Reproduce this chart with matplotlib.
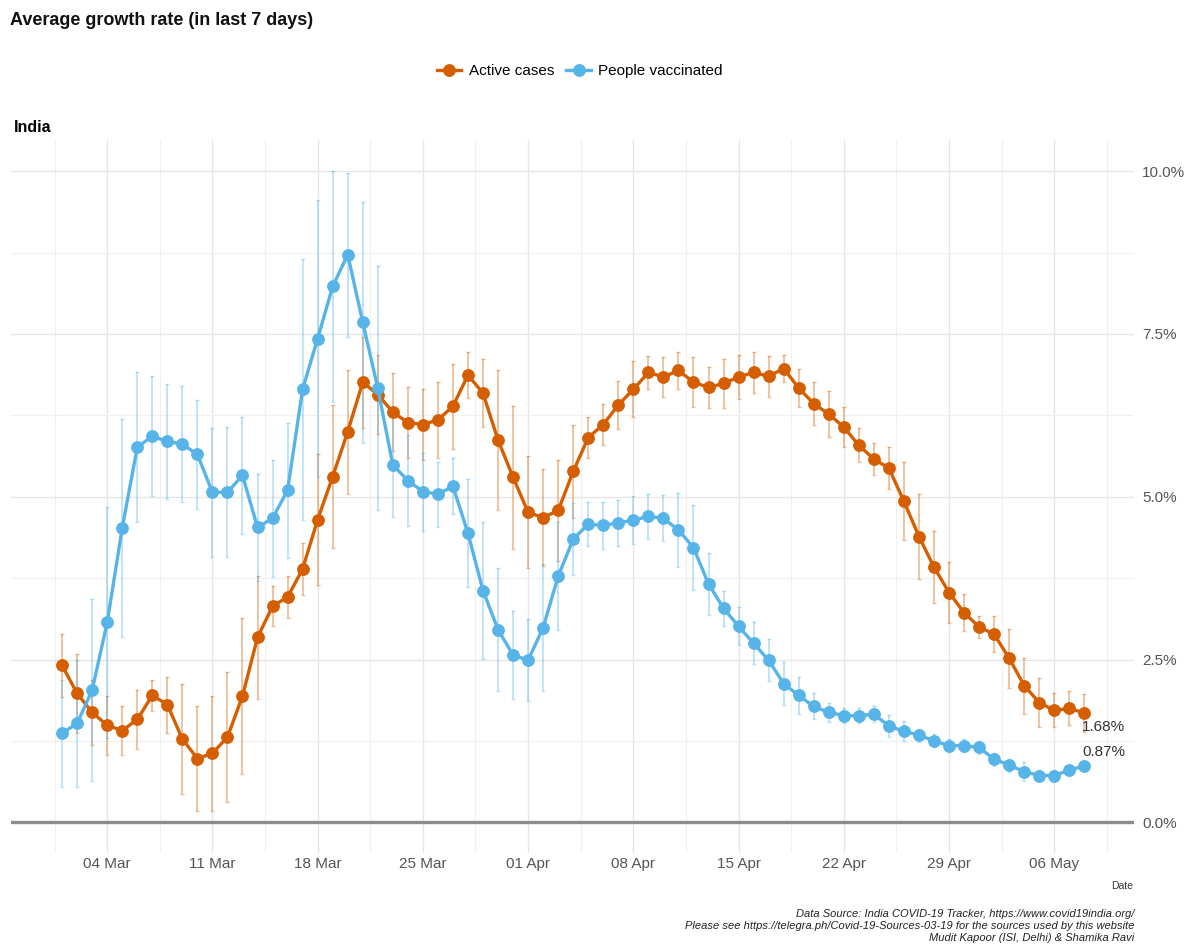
import numpy as np
import pandas as pd
import matplotlib
matplotlib.use('Agg')
import matplotlib.pyplot as plt
import matplotlib.dates as mdates
from matplotlib.ticker import MultipleLocator, FuncFormatter

plt.rcParams['font.family'] = ['Liberation Sans Narrow', 'Liberation Sans', 'DejaVu Sans']

# data (growth rate in %, and error half-widths)
dates = pd.date_range('2021-03-01', '2021-05-08', freq='D')

active = [2.41, 1.98, 1.69, 1.49, 1.41, 1.58, 1.95, 1.81, 1.28, 0.98,
          1.06, 1.31, 1.94, 2.84, 3.32, 3.46, 3.89, 4.65, 5.31, 6.00,
          6.76, 6.57, 6.30, 6.14, 6.11, 6.18, 6.39, 6.87, 6.59, 5.87,
          5.30, 4.76, 4.68, 4.79, 5.39, 5.91, 6.11, 6.41, 6.65, 6.91,
          6.84, 6.94, 6.76, 6.68, 6.74, 6.84, 6.91, 6.85, 6.97, 6.67,
          6.43, 6.27, 6.07, 5.79, 5.58, 5.44, 4.93, 4.39, 3.92, 3.53,
          3.22, 3.00, 2.89, 2.52, 2.10, 1.84, 1.72, 1.75, 1.68]
err_active = [0.49, 0.6, 0.5, 0.45, 0.38, 0.46, 0.24, 0.43, 0.85, 0.8,
              0.88, 1.0, 1.2, 0.94, 0.31, 0.32, 0.4, 1.0, 1.1, 0.95,
              0.7, 0.6, 0.6, 0.54, 0.55, 0.58, 0.65, 0.35, 0.52, 1.07,
              1.1, 0.86, 0.74, 0.78, 0.72, 0.31, 0.31, 0.37, 0.43, 0.25,
              0.31, 0.29, 0.38, 0.31, 0.37, 0.34, 0.31, 0.31, 0.2, 0.29,
              0.33, 0.35, 0.31, 0.26, 0.25, 0.32, 0.6, 0.65, 0.55, 0.47,
              0.28, 0.17, 0.28, 0.45, 0.43, 0.38, 0.26, 0.26, 0.29]

vacc = [1.37, 1.52, 2.03, 3.07, 4.52, 5.76, 5.93, 5.85, 5.81, 5.65,
        5.07, 5.07, 5.33, 4.53, 4.67, 5.10, 6.65, 7.43, 8.23, 8.72,
        7.68, 6.67, 5.49, 5.25, 5.08, 5.04, 5.16, 4.44, 3.56, 2.96,
        2.57, 2.49, 2.99, 3.78, 4.35, 4.58, 4.56, 4.60, 4.64, 4.70,
        4.67, 4.49, 4.22, 3.66, 3.29, 3.01, 2.75, 2.49, 2.13, 1.95,
        1.78, 1.69, 1.64, 1.64, 1.66, 1.48, 1.40, 1.34, 1.25, 1.18,
        1.18, 1.15, 0.97, 0.88, 0.78, 0.72, 0.72, 0.80, 0.87]
err_vacc = [0.82, 0.97, 1.4, 1.78, 1.67, 1.15, 0.92, 0.88, 0.89, 0.83,
            0.99, 1.0, 0.9, 0.82, 0.9, 1.04, 2.0, 2.13, 1.77, 1.26,
            1.85, 1.87, 0.8, 0.7, 0.6, 0.5, 0.43, 0.83, 1.05, 0.95,
            0.68, 0.63, 0.98, 0.83, 0.55, 0.34, 0.36, 0.35, 0.37, 0.35,
            0.35, 0.57, 0.65, 0.48, 0.27, 0.29, 0.32, 0.32, 0.33, 0.29,
            0.2, 0.15, 0.12, 0.12, 0.12, 0.17, 0.15, 0.1, 0.1, 0.1,
            0.1, 0.1, 0.1, 0.1, 0.15, 0.08, 0.08, 0.08, 0.08]

series = ['Active cases', 'People vaccinated']
colors = ['#D55E00', '#56B4E9']

fig = plt.figure(figsize=(11.93, 9.52), dpi=100)
ax = fig.add_axes([0.0092, 0.104, 0.9413, 0.749])

for vals, errs, col, name in [(active, err_active, colors[0], series[0]),
                              (vacc, err_vacc, colors[1], series[1])]:
    ax.errorbar(dates, vals, yerr=errs, fmt='none', ecolor=col, alpha=0.4,
                elinewidth=1.3, capsize=1.5, capthick=1, zorder=2)
    ax.plot(dates, vals, color=col, lw=2.4, marker='o', ms=8.2, label=name, zorder=3)

# end labels
ax.annotate('%.2f%%' % active[-1], (dates[-1], active[-1]), xytext=(14, -10),
            textcoords='offset points', ha='center', va='center', fontsize=11, color='#333333')
ax.annotate('%.2f%%' % vacc[-1], (dates[-1], vacc[-1]), xytext=(14, 10),
            textcoords='offset points', ha='center', va='center', fontsize=11, color='#333333')

ax.axhline(0, color='#8c8c8c', lw=2.4, zorder=1)

start = dates[0]
ax.set_xlim(start - pd.Timedelta(days=3.4), start + pd.Timedelta(days=71.3))
ax.set_ylim(-0.47, 10.48)

major = pd.date_range('2021-03-04', '2021-05-06', freq='7D')
minor = pd.date_range('2021-02-28 12:00', '2021-05-10', freq='7D')
ax.set_xticks(major)
ax.set_xticks(minor, minor=True)
ax.xaxis.set_major_formatter(mdates.DateFormatter('%d %b'))
ax.yaxis.set_major_locator(MultipleLocator(2.5))
ax.yaxis.set_minor_locator(MultipleLocator(1.25))
ax.yaxis.set_major_formatter(FuncFormatter(lambda v, p: '%.1f%%' % v))
ax.yaxis.tick_right()

ax.grid(which='major', color='#e6e6e6', lw=1.0, zorder=0)
ax.grid(which='minor', color='#f0f0f0', lw=0.8, zorder=0)
ax.set_axisbelow(True)
ax.tick_params(which='both', length=0)
ax.tick_params(axis='y', labelsize=11, labelcolor='#555555', pad=6)
ax.tick_params(axis='x', labelsize=11, labelcolor='#555555', pad=3)
for s in ax.spines.values():
    s.set_visible(False)

fig.text(0.0084, 0.978, 'Average growth rate (in last 7 days)', fontsize=13,
         fontweight='bold', ha='left', va='center', color='#111111')
fig.text(0.0117, 0.866, 'India', fontsize=11.5, fontweight='bold', ha='left', va='center')
fig.text(0.950, 0.069, 'Date', fontsize=7.5, ha='right', va='center', color='#333333')

leg = fig.legend(loc='center', bbox_to_anchor=(0.486, 0.925), ncol=2, frameon=False,
                 fontsize=11, handlelength=1.6, columnspacing=0.8, handletextpad=0.5)

caption = ('Data Source: India COVID-19 Tracker, https://www.covid19india.org/\n'
           'Please see https://telegra.ph/Covid-19-Sources-03-19 for the sources used by this website\n'
           'Mudit Kapoor (ISI, Delhi) & Shamika Ravi')
fig.text(0.951, 0.027, caption, fontsize=8, style='italic', ha='right', va='center',
         linespacing=1.25, color='#222222')

fig.savefig('out.png', dpi=100)
